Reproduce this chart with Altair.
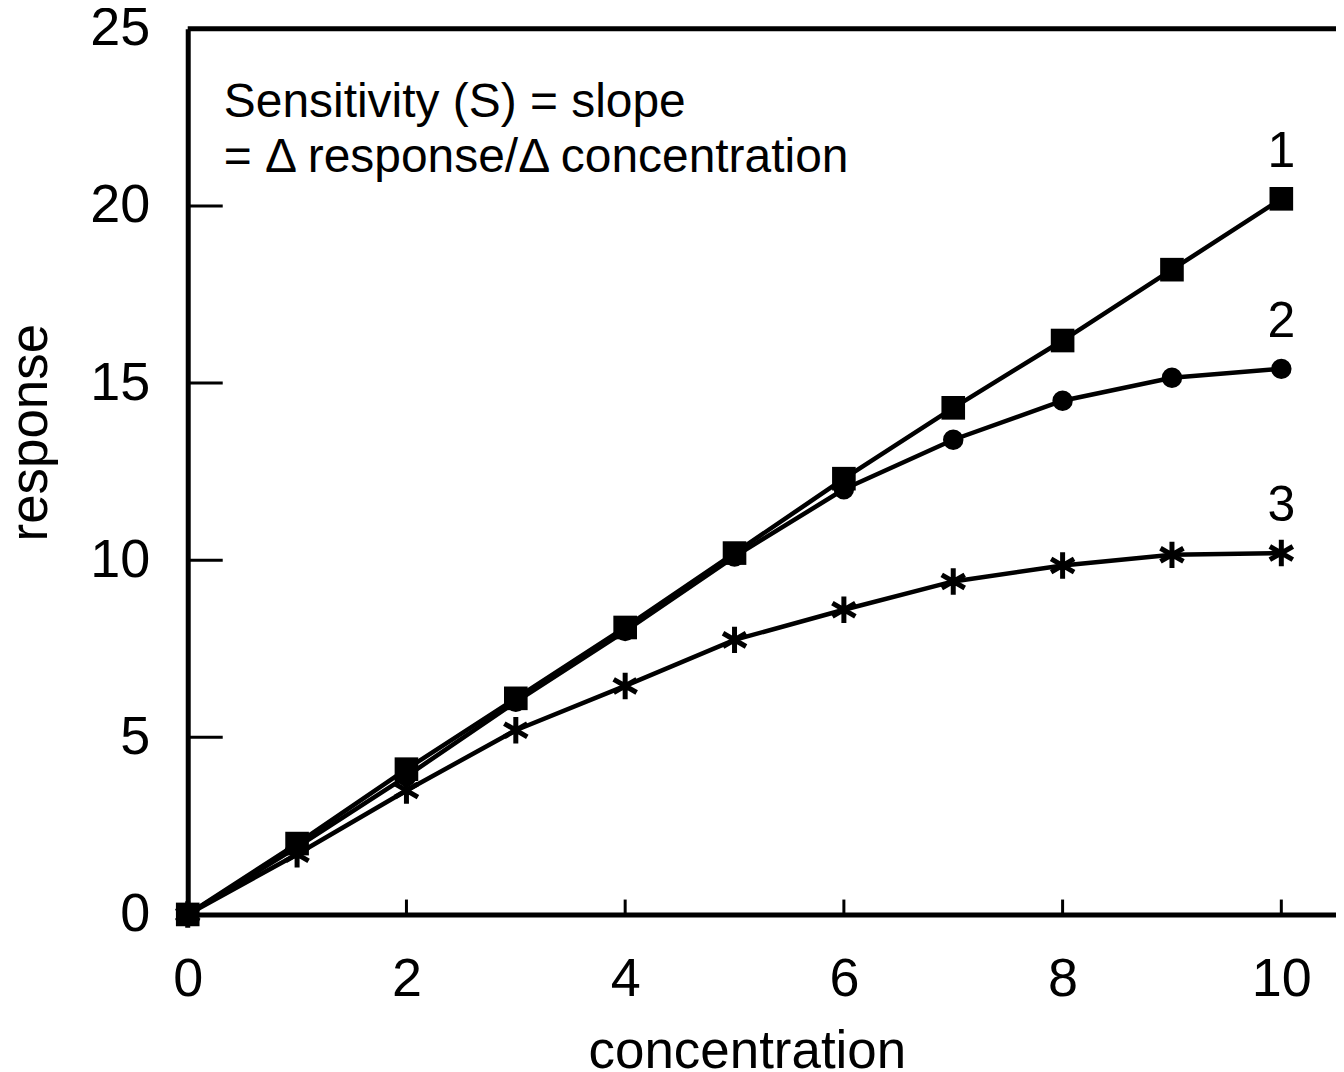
import altair as alt
import pandas as pd

concentration = [0, 1, 2, 3, 4, 5, 6, 7, 8, 9, 10]
curve1 = [0, 2.0, 4.1, 6.1, 8.1, 10.2, 12.3, 14.3, 16.2, 18.2, 20.2]
curve2 = [0, 1.9, 3.9, 6.0, 8.0, 10.1, 12.0, 13.4, 14.5, 15.15, 15.4]
curve3 = [0, 1.7, 3.5, 5.2, 6.45, 7.75, 8.6, 9.4, 9.85, 10.15, 10.2]
series_names = ["1", "2", "3"]
x_ticks = [0, 2, 4, 6, 8, 10]
y_ticks = [0, 5, 10, 15, 20, 25]
x_inner_ticks = [2, 4, 6, 8, 10]
y_inner_ticks = [5, 10, 15, 20]
note_lines = ["Sensitivity (S) = slope", "= \u0394 response/\u0394 concentration"]

rows = []
for name, vals in zip(series_names, [curve1, curve2, curve3]):
    for c, v in zip(concentration, vals):
        rows.append({"series": name, "concentration": c, "response": v})
df = pd.DataFrame(rows)

ends = pd.DataFrame({
    "series": series_names,
    "concentration": [concentration[-1]] * 3,
    "response": [curve1[-1], curve2[-1], curve3[-1]],
})

FONT = "Liberation Sans"
xscale = alt.Scale(domain=[0, 10.5], nice=False, zero=False)
yscale = alt.Scale(domain=[0, 25], nice=False)

x_enc = alt.X(
    "concentration:Q", scale=xscale,
    axis=alt.Axis(values=x_ticks, title="concentration", grid=False, ticks=False,
                  labelPadding=38, labelFontSize=54, labelFont=FONT, labelColor="black",
                  labelFlush=False, labelOverlap=False, format="d",
                  domainColor="black", domainWidth=5,
                  titleFont=FONT, titleFontSize=53, titleFontWeight="normal",
                  titleColor="black", titleX=560, titleY=153,
                  titleBaseline="alphabetic", titleAlign="center"),
)
y_enc = alt.Y(
    "response:Q", scale=yscale,
    axis=alt.Axis(values=y_ticks, title="response", grid=False, ticks=False,
                  labelPadding=38, labelFontSize=54, labelFont=FONT, labelColor="black",
                  labelFlush=False, labelOverlap=False, labelBaseline="middle",
                  domainColor="black", domainWidth=5,
                  titleFont=FONT, titleFontSize=53, titleFontWeight="normal",
                  titleColor="black", titleAngle=270, titleX=-141, titleY=404,
                  titleBaseline="alphabetic", titleAlign="center"),
)

base = alt.Chart(df)

lines = base.mark_line(color="black", strokeWidth=4.5).encode(
    x=x_enc, y=y_enc, detail="series:N"
)

star_path = "M0,-1L0,1M-0.87,-0.5L0.87,0.5M-0.87,0.5L0.87,-0.5"
stars = base.transform_filter(alt.datum.series == "3").mark_point(
    shape=star_path, filled=False, color="black", strokeWidth=5, size=700, opacity=1
).encode(x="concentration:Q", y="response:Q")

circles = base.transform_filter(alt.datum.series == "2").mark_point(
    shape="circle", filled=True, color="black", size=420, opacity=1
).encode(x="concentration:Q", y="response:Q")

squares = base.transform_filter(alt.datum.series == "1").mark_point(
    shape="square", filled=True, color="black", size=560, opacity=1
).encode(x="concentration:Q", y="response:Q")

top_border = alt.Chart(pd.DataFrame({"v": [y_ticks[-1]]})).mark_rule(
    color="black", strokeWidth=5
).encode(y="v:Q")

ytick_rules = alt.Chart(pd.DataFrame({"v": y_inner_ticks})).mark_rule(
    color="black", strokeWidth=3
).encode(y="v:Q", x=alt.datum(0), x2=alt.datum(0.32))

xtick_rules = alt.Chart(pd.DataFrame({"v": x_inner_ticks})).mark_rule(
    color="black", strokeWidth=3
).encode(x="v:Q", y=alt.datum(0), y2=alt.datum(0.42))

note = alt.Chart(pd.DataFrame({"t": [0]})).mark_text(
    align="left", baseline="alphabetic", font=FONT, fontSize=48,
    lineHeight=55, color="black"
).encode(x=alt.datum(0.33), y=alt.datum(22.5), text=alt.value(note_lines))

labels = alt.Chart(ends).mark_text(
    align="center", baseline="alphabetic", font=FONT, fontSize=50,
    color="black", dy=-32
).encode(x="concentration:Q", y="response:Q", text="series:N")

chart = alt.layer(
    lines, stars, circles, squares, top_border, ytick_rules, xtick_rules, note, labels
).properties(
    width=1150, height=887,
    autosize=alt.AutoSizeParams(type="none"),
    padding={"left": 180, "top": 20, "right": 0, "bottom": 155},
    background="white",
).configure_view(stroke=None)

chart.save("out.html", embed_options={"renderer": "svg", "actions": False})
